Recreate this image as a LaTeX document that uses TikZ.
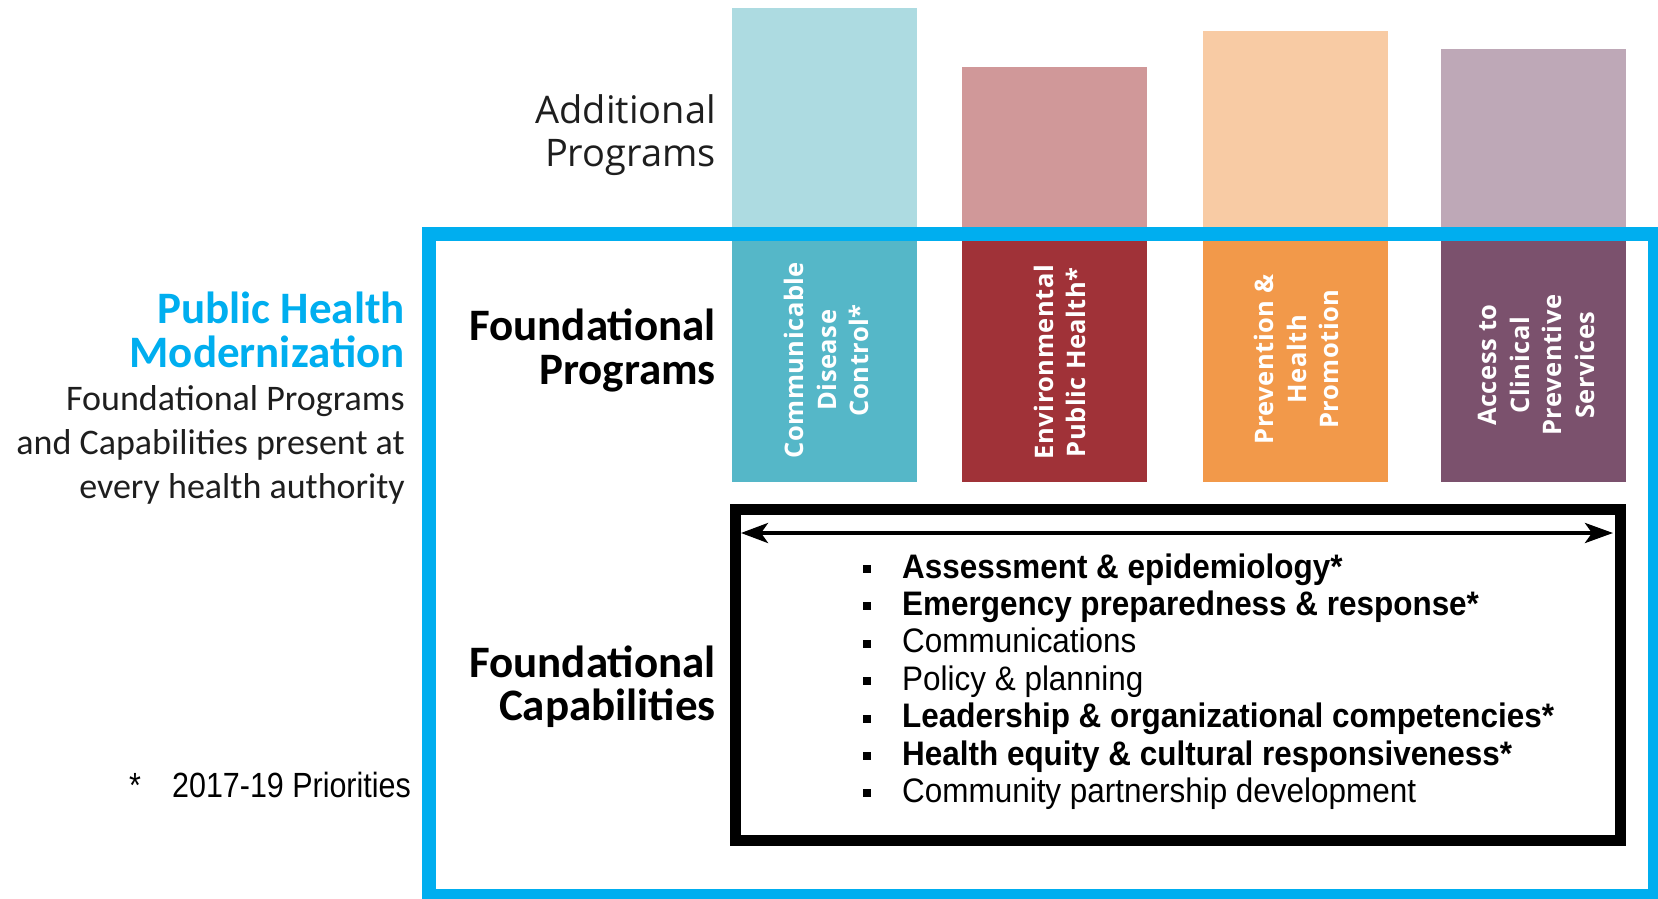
\documentclass[tikz,border=0pt]{standalone}
\usepackage{fontspec}
\setmainfont{Carlito}
\newfontfamily\addfont{Open Sans}
\newfontfamily\listfont[FakeStretch=0.925]{Liberation Sans}
\newfontfamily\prifont[FakeStretch=0.87]{Liberation Sans}
\newfontfamily\boxfont[LetterSpace=2]{Open Sans}
\usetikzlibrary{arrows.meta}
\definecolor{phblue}{RGB}{0,174,239}
\definecolor{cdlight}{RGB}{173,219,225}
\definecolor{ehlight}{RGB}{208,152,153}
\definecolor{pplight}{RGB}{248,203,164}
\definecolor{aclight}{RGB}{190,168,183}
\definecolor{cddark}{RGB}{85,183,200}
\definecolor{ehdark}{RGB}{160,50,56}
\definecolor{ppdark}{RGB}{242,153,74}
\definecolor{acdark}{RGB}{123,81,109}
\definecolor{txtgray}{RGB}{30,30,30}
\newcommand{\blt}{\makebox[39pt][l]{\raisebox{5pt}{\rule{8pt}{8pt}}}}
\begin{document}
\begin{tikzpicture}[x=1pt,y=-1pt,
  progbox/.style={inner sep=0pt, minimum width=185pt, anchor=north west, draw=none},
  boxtxt/.style={rotate=90, align=center, text=white, inner sep=0pt,
    font=\boxfont\bfseries\fontsize{25.5}{32.5}\selectfont},
  rlab/.style={anchor=base east, inner sep=0pt},
  llab/.style={anchor=base west, inner sep=0pt},
  headfont/.style={font=\bfseries\fontsize{45}{45}\selectfont, text=black},
  subfont/.style={font=\fontsize{36}{36}\selectfont, text=txtgray},
  listitem/.style={anchor=base west, inner sep=0pt, text=black},
  listbold/.style={listitem, font=\listfont\bfseries\fontsize{34}{34}\selectfont},
  listreg/.style={listitem, font=\listfont\fontsize{34}{34}\selectfont},
]
\useasboundingbox (0,0) rectangle (1658,899);

% additional programs (top boxes)
\node[progbox, fill=cdlight, minimum height=226.6pt] (t1) at (732,7.4) {};
\node[progbox, fill=ehlight, minimum height=167.4pt] (t2) at (962,66.6) {};
\node[progbox, fill=pplight, minimum height=203.3pt] (t3) at (1203,30.7) {};
\node[progbox, fill=aclight, minimum height=185.4pt] (t4) at (1441,48.6) {};

% foundational programs
\node[progbox, fill=cddark, minimum height=248pt] (f1) at (732,234) {};
\node[progbox, fill=ehdark, minimum height=248pt] (f2) at (962,234) {};
\node[progbox, fill=ppdark, minimum height=248pt] (f3) at (1203,234) {};
\node[progbox, fill=acdark, minimum height=248pt] (f4) at (1441,234) {};

\node[boxtxt] (f1t) at ([xshift=2pt,yshift=-2pt]f1.center) {Communicable\\Disease\\Control*};
\node[boxtxt] (f2t) at ([xshift=5pt,yshift=-4pt]f2.center) {Environmental\\Public Health*};
\node[boxtxt] (f3t) at ([xshift=1pt,yshift=-1pt]f3.center) {Prevention \&\\Health\\Promotion};
\node[boxtxt] (f4t) at ([xshift=3pt,yshift=-7pt]f4.center) {Access to\\Clinical\\Preventive\\Services};

% blue frame
\draw[phblue, line width=14pt] (429,234) rectangle (1655,896);

% black capabilities box
\draw[black, line width=11pt] (735,509) rectangle (1620,840.5);
\coordinate (aL) at (741,533);
\coordinate (aR) at (1613,533);
\draw[line width=4pt, {Stealth[length=27pt,width=20pt,inset=7pt]}-{Stealth[length=28pt,width=20pt,inset=7pt]}] (aL) -- (aR);

% capability list
\node[listbold] (c1) at (863,578) {\blt Assessment \& epidemiology*};
\node[listbold] (c2) at (863,615.4) {\blt Emergency preparedness \& response*};
\node[listreg] (c3) at (863,652.8) {\blt Communications};
\node[listreg] (c4) at (863,690.2) {\blt Policy \& planning};
\node[listbold] (c5) at (863,727.6) {\blt Leadership \& organizational competencies*};
\node[listbold] (c6) at (863,765) {\blt Health equity \& cultural responsiveness*};
\node[listreg] (c7) at (863,802.4) {\blt Community partnership development};

% row headings
\node[rlab, font=\addfont\fontsize{38}{38}\selectfont, text=txtgray] (ad1) at (716,123) {Additional};
\node[rlab, font=\addfont\fontsize{38}{38}\selectfont, text=txtgray] (ad2) at (716,166) {Programs};
\node[rlab, headfont] (fp1) at (716,340) {Foundational};
\node[rlab, headfont] (fp2) at (716,384) {Programs};
\node[rlab, headfont] (fc1) at (716,677) {Foundational};
\node[rlab, headfont] (fc2) at (716,720) {Capabilities};

% left title
\node[rlab, font=\bfseries\fontsize{45}{45}\selectfont, text=phblue] (ph1) at (405,323) {Public Health};
\node[rlab, font=\bfseries\fontsize{45}{45}\selectfont, text=phblue] (ph2) at (405,367) {Modernization};
\node[rlab, subfont] (s1) at (405,410) {Foundational Programs};
\node[rlab, subfont] (s2) at (405,454) {and Capabilities present at};
\node[rlab, subfont] (s3) at (405,498) {every health authority};

% footnote
\node[llab, font=\prifont\fontsize{35}{35}\selectfont] (star) at (129,797) {*};
\node[llab, font=\prifont\fontsize{35}{35}\selectfont] (pri) at (172,797) {2017-19 Priorities};
\end{tikzpicture}
\end{document}
